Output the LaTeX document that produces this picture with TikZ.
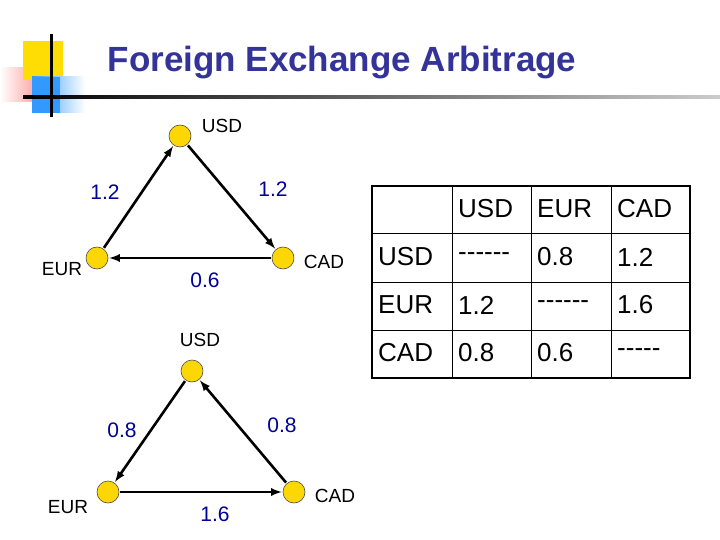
\documentclass[tikz,border=0pt]{standalone}
\usepackage{fontspec}
\setmainfont{Liberation Sans}
\newcommand\dsh{-\kern0pt}
\begin{document}
\begin{tikzpicture}[x=1pt,y=-1pt,
  cur/.style={circle,draw=black!70,fill=yellow!75!orange,minimum size=22pt,inner sep=0pt,line width=0.6pt},
  lab/.style={font=\fontsize{19}{21}\selectfont},
  num/.style={font=\fontsize{21}{23}\selectfont,text=blue!60!black},
  arr/.style={-latex,line width=2.6pt,shorten >=1pt,shorten <=1pt},
  cell/.style={font=\fontsize{26}{28}\selectfont,anchor=west,inner sep=3pt}]
\useasboundingbox (0,0) rectangle (720,540);
% logo
\shade[left color=white,right color=red!60] (0,68) rectangle (60,102);
\fill[yellow!80!orange] (23,41) rectangle (63,80);
\shade[left color=blue!50!cyan!80,right color=white] (32,77) rectangle (85,113);
\fill[blue!50!cyan!80] (32,77) rectangle (60,113);
\shade[left color=black,right color=black!20] (23,95.5) rectangle (720,98.5);
\fill[black] (49.5,34) rectangle (52.5,117);
\node (title) at (342,63) {\fontsize{35}{38}\selectfont\bfseries\color[RGB]{51,51,153}Foreign Exchange Arbitrage};
% top triangle
\node[cur] (u1) at (180,136) {};
\node[cur] (e1) at (97,258) {};
\node[cur] (c1) at (283,258) {};
\node[lab] (lu1) at (222,126) {USD};
\node[lab] (le1) at (62,269) {EUR};
\node[lab] (lc1) at (324,262) {CAD};
\draw[arr] (e1) -- (u1);
\draw[arr] (u1) -- (c1);
\draw[arr] (c1) -- (e1);
\node[num] (n1) at (105,192) {1.2};
\node[num] (n2) at (273,189) {1.2};
\node[num] (n3) at (205,280) {0.6};
% bottom triangle
\node[cur] (u2) at (192,371) {};
\node[cur] (e2) at (108,492) {};
\node[cur] (c2) at (294,492) {};
\node[lab] (lu2) at (200,340) {USD};
\node[lab] (le2) at (68,507) {EUR};
\node[lab] (lc2) at (335,496) {CAD};
\draw[arr] (u2) -- (e2);
\draw[arr] (e2) -- (c2);
\draw[arr] (c2) -- (u2);
\node[num] (m1) at (122,430) {0.8};
\node[num] (m2) at (282,425) {0.8};
\node[num] (m3) at (215,514) {1.6};
% table
\draw[line width=0.8pt] (452,186) -- (452,378) (531,186) -- (531,378) (611,186) -- (611,378)
  (372,233) -- (690,233) (372,282) -- (690,282) (372,330) -- (690,330);
\draw[line width=1.8pt] (372,186) rectangle (690,378);
\node[cell] (h1) at (455,209) {USD};
\node[cell] (h2) at (534,209) {EUR};
\node[cell] (h3) at (614,209) {CAD};
\node[cell] (r1) at (375,257) {USD};
\node[cell] (r2) at (375,305) {EUR};
\node[cell] (r3) at (375,353) {CAD};
\node[cell] (a11) at (455,257) {\dsh\dsh\dsh\dsh\dsh\dsh};
\node[cell] (a12) at (534,257) {0.8};
\node[cell] (a13) at (614,257) {1.2};
\node[cell] (a21) at (455,305) {1.2};
\node[cell] (a22) at (534,305) {\dsh\dsh\dsh\dsh\dsh\dsh};
\node[cell] (a23) at (614,305) {1.6};
\node[cell] (a31) at (455,353) {0.8};
\node[cell] (a32) at (534,353) {0.6};
\node[cell] (a33) at (614,353) {\dsh\dsh\dsh\dsh\dsh};
\end{tikzpicture}
\end{document}
